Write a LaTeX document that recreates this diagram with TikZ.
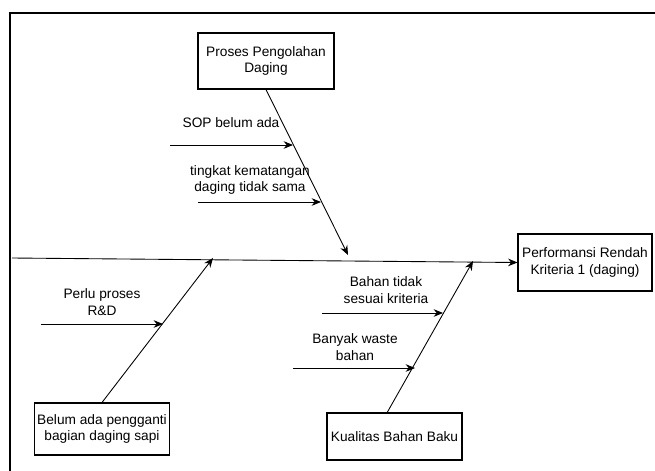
\documentclass[tikz,border=0pt]{standalone}
\usepackage{fontspec}
\setmainfont{Liberation Sans}
\usetikzlibrary{arrows.meta}

\begin{document}
\begin{tikzpicture}[x=0.03cm, y=-0.03cm, >={Stealth[length=8pt, width=6.5pt]},
    font=\fontsize{11.7}{14}\selectfont,
    box/.style={draw, rectangle, line width=0.9pt, align=center, inner sep=2pt},
    bone/.style={->, line width=0.75pt},
    lbl/.style={align=center, inner sep=0pt}]
    \useasboundingbox (0,0) rectangle (655,470);
    \clip (0,0) rectangle (655,470);
    \draw[line width=1.6pt] (10,13) rectangle (690,500);

    % kotak sebab dan akibat
    \node[box, minimum width=4.08cm, minimum height=1.68cm] (proses) at (266,61) {Proses Pengolahan\\Daging};
    \node[box, minimum width=4.02cm, minimum height=1.71cm] (perf) at (585,262.5) {Performansi Rendah\\Kriteria 1 (daging)};
    \node[box, minimum width=3.96cm, minimum height=1.56cm] (belum) at (102,429) {Belum ada pengganti\\bagian daging sapi};
    \node[box, minimum width=4.05cm, minimum height=1.41cm] (kualitas) at (394.5,436.5) {Kualitas Bahan Baku};

    % label sebab
    \node[lbl] (sop) at (231,123) {SOP belum ada};
    \node[lbl] (tingkat) at (250,180) {tingkat kematangan\\daging tidak sama};
    \node[lbl] (perlu) at (102,302) {Perlu proses\\R\&D};
    \node[lbl] (bahan) at (386,290) {Bahan tidak\\sesuai kriteria};
    \node[lbl] (banyak) at (355,347) {Banyak waste\\bahan};

    % titik ujung panah
    \coordinate (ekor) at (12,258);
    \coordinate (tipA) at (348,255);
    \coordinate (tipB) at (213,258);
    \coordinate (tipC) at (473,261);
    \coordinate (sopS) at (170,145);     \coordinate (sopT) at (293,145);
    \coordinate (tingkatS) at (198,202); \coordinate (tingkatT) at (321,202);
    \coordinate (perluS) at (41,324);    \coordinate (perluT) at (163,324);
    \coordinate (bahanS) at (322,313);   \coordinate (bahanT) at (443,313);
    \coordinate (banyakS) at (293,368);  \coordinate (banyakT) at (415,368);

    % tulang utama dan cabang
    \draw[bone] (ekor) -- (perf.west);
    \draw[bone] (proses.south) -- (tipA);
    \draw[bone] (belum.north) -- (tipB);
    \draw[bone] ([xshift=-0.22cm]kualitas.north) -- (tipC);

    \draw[bone] (sopS) -- (sopT);
    \draw[bone] (tingkatS) -- (tingkatT);
    \draw[bone] (perluS) -- (perluT);
    \draw[bone] (bahanS) -- (bahanT);
    \draw[bone] (banyakS) -- (banyakT);
\end{tikzpicture}
\end{document}
